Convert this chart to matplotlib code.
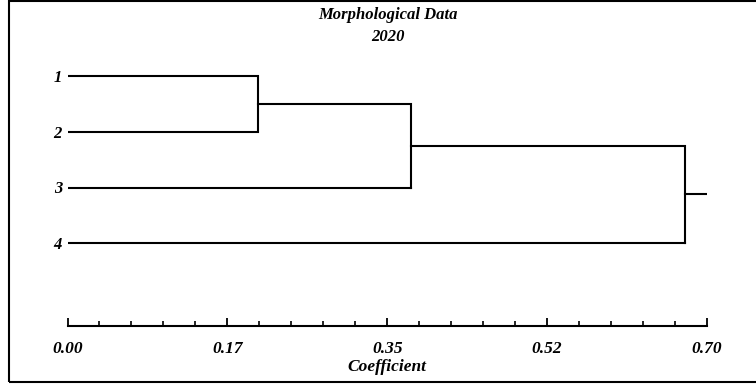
import numpy as np
import matplotlib
matplotlib.use('Agg')
from matplotlib import pyplot as plt
from matplotlib.patches import Rectangle

# Dati
leaves = ['1', '2', '3', '4']
merge_h = [0.208, 0.376, 0.676]   # altezze di fusione: (1,2), (12,3), (123,4)
root_end = 0.70
tick_vals = [0.0, 0.175, 0.35, 0.525, 0.70]
tick_labels = ['0.00', '0.17', '0.35', '0.52', '0.70']

W, H = 756, 385
fig = plt.figure(figsize=(W/100, H/100), dpi=100)
ax = fig.add_axes([67.5/W, (H-326)/H, (707-67.5)/W, (326-60)/H])
ax.set_xlim(0, 0.70)
ax.set_ylim(5.495, 0.703)

font = dict(family='Liberation Serif', weight='bold', style='italic')
lw = 1.5
kw = dict(color='black', lw=lw, solid_capstyle='projecting', solid_joinstyle='miter')

# foglie -> cluster
y = {i: i+1 for i in range(4)}
h1, h2, h3 = merge_h
ax.plot([0, h1, h1, 0], [y[0], y[0], y[1], y[1]], **kw)
y12 = (y[0] + y[1]) / 2
ax.plot([0, h2], [y[2], y[2]], **kw)
ax.plot([h1, h2, h2], [y12, y12, y[2]], **kw)
y123 = (y12 + y[2]) / 2
ax.plot([0, h3], [y[3], y[3]], **kw)
ax.plot([h2, h3, h3], [y123, y123, y[3]], **kw)
yroot = (y123 + y[3]) / 2
ax.plot([h3, root_end], [yroot, yroot], **kw)

for i, lab in enumerate(leaves):
    ax.text(-0.006, y[i] + 0.03, lab, ha='right', va='center', fontsize=12, **font)

for s in ['top', 'right', 'left']:
    ax.spines[s].set_visible(False)
ax.spines['bottom'].set_linewidth(lw)
ax.set_yticks([])
ax.set_xticks(tick_vals)
ax.set_xticklabels(tick_labels, **font, fontsize=12.5)
ax.set_xticks(np.arange(0, 0.7001, 0.035), minor=True)
ax.tick_params(axis='x', which='major', direction='in', length=6, width=1.3, pad=10.5)
ax.tick_params(axis='x', which='minor', direction='in', length=3.5, width=1.2)
ax.set_xlabel('Coefficient', fontsize=12.5, labelpad=1.5, **font)

fig.text(388/W, 1-15/H, 'Morphological Data', ha='center', va='center', fontsize=12, **font)
fig.text(388/W, 1-37/H, '2020', ha='center', va='center', fontsize=12, **font)

fig.patches.append(Rectangle((9/W, 3/H), 1.2, 381/H, transform=fig.transFigure,
                             fill=False, edgecolor='black', lw=1.5))

fig.savefig('out.png', dpi=100)
